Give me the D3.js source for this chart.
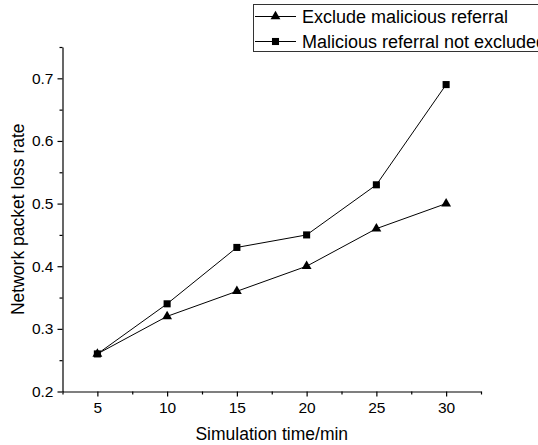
<!DOCTYPE html>
<html lang="en">
<head>
    <meta charset="UTF-8">
    <title>Network packet loss rate</title>
    <script src="https://cdnjs.cloudflare.com/ajax/libs/d3/7.8.5/d3.min.js"></script>
    <style>
        body {
            margin: 0;
            padding: 0;
            background: #fff;
            font-family: Arial, "Liberation Sans", sans-serif;
        }
        svg {
            display: block;
        }
        .axis path, .axis line {
            stroke: #000;
            stroke-width: 1.2px;
        }
        .axis text {
            font-size: 15.5px;
            fill: #000;
        }
        .title {
            font-size: 17.5px;
            fill: #000;
        }
        .legend text {
            font-size: 18px;
            fill: #000;
        }
    </style>
</head>
<body>
    <svg width="538" height="445"></svg>
    <script>
        const times = [5, 10, 15, 20, 25, 30];
        const excludeRate = [0.26, 0.32, 0.36, 0.40, 0.46, 0.50];
        const notExcludedRate = [0.26, 0.34, 0.43, 0.45, 0.53, 0.69];
        const seriesNames = ["Exclude malicious referral", "Malicious referral not excluded"];
        const xTicks = [5, 10, 15, 20, 25, 30];
        const yTicks = [0.2, 0.3, 0.4, 0.5, 0.6, 0.7];

        const svg = d3.select("svg");

        const x = d3.scaleLinear().domain([2.5, 32.5]).range([62.5, 481]);
        const y = d3.scaleLinear().domain([0.2, 0.75]).range([391.5, 47]);

        // minor ticks between the labelled ones
        const xMinor = d3.range(2.5, 33, 5);
        const yMinor = d3.range(0.25, 0.76, 0.1);

        svg.append("g")
            .attr("class", "axis")
            .attr("transform", "translate(0,391.5)")
            .call(d3.axisBottom(x).tickValues(xMinor).tickSize(3).tickFormat("").tickSizeOuter(0));

        svg.append("g")
            .attr("class", "axis")
            .attr("transform", "translate(0,391.5)")
            .call(d3.axisBottom(x).tickValues(xTicks).tickSize(5).tickPadding(5).tickSizeOuter(0))
            .call(g => g.select(".domain").remove());

        svg.append("g")
            .attr("class", "axis")
            .attr("transform", "translate(62.5,0)")
            .call(d3.axisLeft(y).tickValues(yMinor).tickSize(3).tickFormat("").tickSizeOuter(0));

        svg.append("g")
            .attr("class", "axis")
            .attr("transform", "translate(62.5,0)")
            .call(d3.axisLeft(y).tickValues(yTicks).tickSize(5).tickPadding(4).tickFormat(d3.format(".1f")).tickSizeOuter(0))
            .call(g => g.select(".domain").remove());

        // axis titles
        svg.append("text")
            .attr("class", "title")
            .attr("x", (x.range()[0] + x.range()[1]) / 2)
            .attr("y", 440)
            .attr("text-anchor", "middle")
            .text("Simulation time/min");

        svg.append("text")
            .attr("class", "title")
            .attr("transform", `translate(24,${(y.range()[0] + y.range()[1]) / 2}) rotate(-90)`)
            .attr("text-anchor", "middle")
            .text("Network packet loss rate");

        const line = d3.line()
            .x((d, i) => x(times[i]))
            .y(d => y(d));

        const tri = d3.symbol().type(d3.symbolTriangle).size(42);
        const sq = d3.symbol().type(d3.symbolSquare).size(50);

        function drawSeries(values, symbol) {
            svg.append("path")
                .datum(values)
                .attr("fill", "none")
                .attr("stroke", "#000")
                .attr("stroke-width", 1)
                .attr("d", line);
            svg.append("g")
                .selectAll("path")
                .data(values)
                .enter().append("path")
                .attr("transform", (d, i) => `translate(${x(times[i])},${y(d)})`)
                .attr("d", symbol)
                .attr("fill", "#000");
        }

        drawSeries(notExcludedRate, sq);
        drawSeries(excludeRate, tri);

        // legend (box runs past the right edge, as in the original)
        const legend = svg.append("g").attr("class", "legend");
        legend.append("rect")
            .attr("x", 253.5)
            .attr("y", 4.5)
            .attr("width", 300)
            .attr("height", 47)
            .attr("fill", "#fff")
            .attr("stroke", "#333")
            .attr("stroke-width", 1);

        const symbols = [tri, sq];
        seriesNames.forEach((name, i) => {
            const cy = 16.5 + i * 25;
            legend.append("line")
                .attr("x1", 255).attr("x2", 296)
                .attr("y1", cy).attr("y2", cy)
                .attr("stroke", "#000");
            legend.append("path")
                .attr("transform", `translate(275.5,${cy})`)
                .attr("d", symbols[i])
                .attr("fill", "#000");
            legend.append("text")
                .attr("x", 302)
                .attr("y", cy)
                .attr("dy", "0.35em")
                .text(name);
        });
    </script>
</body>
</html>
